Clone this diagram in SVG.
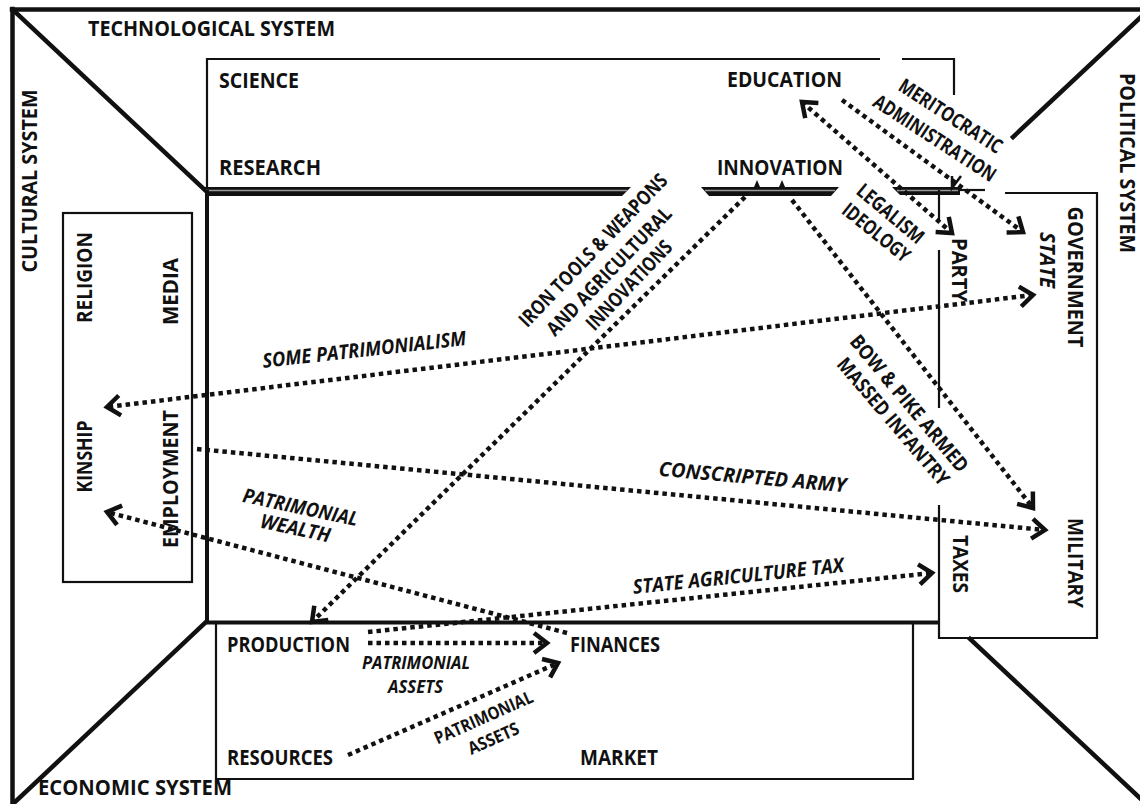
<svg xmlns="http://www.w3.org/2000/svg" width="1140" height="804" viewBox="0 0 1140 804">
<style>
.frame{stroke:#111;stroke-width:4.5;fill:none;stroke-linecap:square}
.box{stroke:#111;stroke-width:2.2;fill:none}
.thick{stroke:#111;stroke-width:4;fill:none}
.bar{fill:#111;stroke:none}
.stripe{stroke:#999;stroke-width:1.6;fill:none}
.lbl{font-family:"Open Sans","Liberation Sans",sans-serif;font-weight:700;font-size:21px;fill:#111}
.cl{font-family:"Open Sans","Liberation Sans",sans-serif;font-weight:700;font-size:20px;fill:#111}
.it{font-style:italic}
.sm{font-size:17.5px}
.conn{stroke:#111;stroke-width:4.5;stroke-dasharray:4.5 4;fill:none}
</style>
<defs>
<marker id="ah" viewBox="-20 -15 26 30" markerWidth="26" markerHeight="30" refX="0" refY="0" orient="auto-start-reverse" markerUnits="userSpaceOnUse">
<path d="M-13,-10 L0,0 L-13,10" fill="none" stroke="#111" stroke-width="4.5" stroke-dasharray="none" stroke-linejoin="miter"/>
</marker>
</defs>
<rect width="1140" height="804" fill="#fff"/>

<g id="frame">
<line class="frame" x1="12" y1="9.5" x2="1142" y2="9.5"/>
<line class="frame" x1="12.5" y1="9" x2="12.5" y2="806"/>
<line class="frame" x1="13" y1="10" x2="205" y2="190"/>
<line class="frame" x1="1141" y1="17" x2="1013" y2="137"/>
<line class="frame" x1="14" y1="803" x2="205" y2="623"/>
<line class="frame" x1="970" y1="639" x2="1141" y2="799"/>
</g>

<g id="technological-system">
<text class="lbl" x="88" y="36" textLength="247" lengthAdjust="spacingAndGlyphs">TECHNOLOGICAL SYSTEM</text>
</g>
<g id="cultural-system">
<text class="lbl" transform="translate(37,181) rotate(-90)" text-anchor="middle" textLength="183" lengthAdjust="spacingAndGlyphs">CULTURAL SYSTEM</text>
</g>
<g id="political-system">
<text class="lbl" transform="translate(1120,163) rotate(90)" text-anchor="middle" textLength="180" lengthAdjust="spacingAndGlyphs">POLITICAL SYSTEM</text>
</g>
<g id="economic-system">
<text class="lbl" x="38" y="795" textLength="194" lengthAdjust="spacingAndGlyphs">ECONOMIC SYSTEM</text>
</g>

<g id="science-box">
<polyline class="box" points="207,190 207,59 880,59"/>
<polyline class="box" points="902,59 954,59 954,95"/>
<text class="lbl" x="219" y="88" textLength="80" lengthAdjust="spacingAndGlyphs">SCIENCE</text>
<text class="lbl" x="219" y="175" textLength="102" lengthAdjust="spacingAndGlyphs">RESEARCH</text>
<text class="lbl" x="727" y="87" textLength="115" lengthAdjust="spacingAndGlyphs">EDUCATION</text>
<text class="lbl" x="717" y="175" textLength="126" lengthAdjust="spacingAndGlyphs">INNOVATION</text>
</g>

<g id="central-box">
<polygon class="bar" points="205,187 631,187 622,196 205,196"/>
<line class="stripe" x1="206" y1="190.5" x2="627" y2="190.5"/>
<polygon class="bar" points="701,187 839,187 831,196 709,196"/>
<line class="stripe" x1="705" y1="190.5" x2="835" y2="190.5"/>
<polygon class="bar" points="892,187 960,187 960,195 900,195"/>
<line class="stripe" x1="897" y1="190.5" x2="958" y2="190.5"/>
<line class="box" x1="960" y1="190" x2="985" y2="190"/>
<path d="M754,187 L757,180 L760,187 Z M779,187 L782,180 L785,187 Z" fill="#111"/>
<path d="M952,176 L952,188 L961,176" fill="none" stroke="#111" stroke-width="2.5"/>
<line class="thick" x1="207" y1="190" x2="207" y2="624"/>
<line class="thick" x1="205" y1="622.5" x2="940" y2="622.5"/>
</g>

<g id="cultural-box">
<rect class="box" x="63" y="213" width="129" height="369"/>
<text class="lbl" transform="translate(92,277.5) rotate(-90)" text-anchor="middle" textLength="91" lengthAdjust="spacingAndGlyphs">RELIGION</text>
<text class="lbl" transform="translate(178,291.5) rotate(-90)" text-anchor="middle" textLength="67" lengthAdjust="spacingAndGlyphs">MEDIA</text>
<text class="lbl" transform="translate(92,456.5) rotate(-90)" text-anchor="middle" textLength="72" lengthAdjust="spacingAndGlyphs">KINSHIP</text>
<text class="lbl" transform="translate(178,479) rotate(-90)" text-anchor="middle" textLength="138" lengthAdjust="spacingAndGlyphs">EMPLOYMENT</text>
</g>

<g id="political-box">
<polyline class="box" points="1005,193 1097,193 1097,638 939,638 939,505"/>
<line class="box" x1="939" y1="190" x2="939" y2="222"/>
<line class="box" x1="939" y1="250" x2="939" y2="408"/>
<text class="lbl" transform="translate(1068,277) rotate(90)" text-anchor="middle" textLength="141" lengthAdjust="spacingAndGlyphs">GOVERNMENT</text>
<text class="lbl it" transform="translate(1040,260) rotate(90)" text-anchor="middle" textLength="56" lengthAdjust="spacingAndGlyphs">STATE</text>
<text class="lbl" transform="translate(952,270) rotate(90)" text-anchor="middle" textLength="64" lengthAdjust="spacingAndGlyphs">PARTY</text>
<text class="lbl" transform="translate(953,564) rotate(90)" text-anchor="middle" textLength="58" lengthAdjust="spacingAndGlyphs">TAXES</text>
<text class="lbl" transform="translate(1068,563) rotate(90)" text-anchor="middle" textLength="90" lengthAdjust="spacingAndGlyphs">MILITARY</text>
</g>

<g id="market-box">
<polyline class="box" points="216,623 216,779 913,779 913,623"/>
<text class="lbl" x="227" y="652" textLength="123" lengthAdjust="spacingAndGlyphs">PRODUCTION</text>
<text class="lbl" x="570" y="652" textLength="90" lengthAdjust="spacingAndGlyphs">FINANCES</text>
<text class="lbl" x="227" y="765" textLength="106" lengthAdjust="spacingAndGlyphs">RESOURCES</text>
<text class="lbl" x="580" y="765" textLength="78" lengthAdjust="spacingAndGlyphs">MARKET</text>
</g>

<g id="connectors">
<path class="conn" d="M1033,295 L107,407" marker-start="url(#ah)" marker-end="url(#ah)"/>
<path class="conn" d="M197,449 L1045,530" marker-end="url(#ah)"/>
<path class="conn" d="M567,633 L107,512" marker-end="url(#ah)"/>
<path class="conn" d="M745,197 L312,622" marker-end="url(#ah)"/>
<path class="conn" d="M792,200 L1033,508" marker-end="url(#ah)"/>
<path class="conn" d="M368,632 L932,573" marker-end="url(#ah)"/>
<path class="conn" d="M368,643 L547,643" marker-end="url(#ah)"/>
<path class="conn" d="M348,755 L558,663" marker-end="url(#ah)"/>
<path class="conn" d="M802,102 L952,233" marker-start="url(#ah)" marker-end="url(#ah)"/>
<path class="conn" d="M842,100 L1023,232" marker-end="url(#ah)"/>

<text class="cl it" transform="translate(365,356.5) rotate(-6.4)" text-anchor="middle" textLength="205" lengthAdjust="spacingAndGlyphs">SOME PATRIMONIALISM</text>
<text class="cl it" transform="translate(752,484) rotate(5)" text-anchor="middle" textLength="188" lengthAdjust="spacingAndGlyphs">CONSCRIPTED ARMY</text>
<text class="cl it" transform="translate(739,583) rotate(-6)" text-anchor="middle" textLength="212" lengthAdjust="spacingAndGlyphs">STATE AGRICULTURE TAX</text>
<text class="cl it" transform="translate(299,514) rotate(12)" text-anchor="middle" textLength="117" lengthAdjust="spacingAndGlyphs">PATRIMONIAL</text>
<text class="cl it" transform="translate(294,535) rotate(12)" text-anchor="middle" textLength="71" lengthAdjust="spacingAndGlyphs">WEALTH</text>
<text class="cl it sm" x="416" y="669" text-anchor="middle" textLength="108" lengthAdjust="spacingAndGlyphs">PATRIMONIAL</text>
<text class="cl it sm" x="415.5" y="693" text-anchor="middle" textLength="55" lengthAdjust="spacingAndGlyphs">ASSETS</text>
<text class="cl sm" transform="translate(486,723) rotate(-24)" text-anchor="middle" textLength="106" lengthAdjust="spacingAndGlyphs">PATRIMONIAL</text>
<text class="cl sm" transform="translate(496,744) rotate(-24)" text-anchor="middle" textLength="54" lengthAdjust="spacingAndGlyphs">ASSETS</text>
<text class="cl" transform="translate(598,255) rotate(-46)" text-anchor="middle" textLength="204" lengthAdjust="spacingAndGlyphs">IRON TOOLS &amp; WEAPONS</text>
<text class="cl" transform="translate(614,276) rotate(-46)" text-anchor="middle" textLength="170" lengthAdjust="spacingAndGlyphs">AND AGRICULTURAL</text>
<text class="cl" transform="translate(634,290) rotate(-46.5)" text-anchor="middle" textLength="115" lengthAdjust="spacingAndGlyphs">INNOVATIONS</text>
<text class="cl" transform="translate(947,122) rotate(33)" text-anchor="middle" textLength="119" lengthAdjust="spacingAndGlyphs">MERITOCRATIC</text>
<text class="cl" transform="translate(931,144) rotate(33)" text-anchor="middle" textLength="142" lengthAdjust="spacingAndGlyphs">ADMINISTRATION</text>
<text class="cl" transform="translate(886,219) rotate(40)" text-anchor="middle" textLength="81" lengthAdjust="spacingAndGlyphs">LEGALISM</text>
<text class="cl" transform="translate(872,238) rotate(39)" text-anchor="middle" textLength="81" lengthAdjust="spacingAndGlyphs">IDEOLOGY</text>
<text class="cl" transform="translate(904,408) rotate(50)" text-anchor="middle" textLength="172" lengthAdjust="spacingAndGlyphs">BOW &amp; PIKE ARMED</text>
<text class="cl" transform="translate(888,426) rotate(49.5)" text-anchor="middle" textLength="161" lengthAdjust="spacingAndGlyphs">MASSED INFANTRY</text>
</g>
</svg>
